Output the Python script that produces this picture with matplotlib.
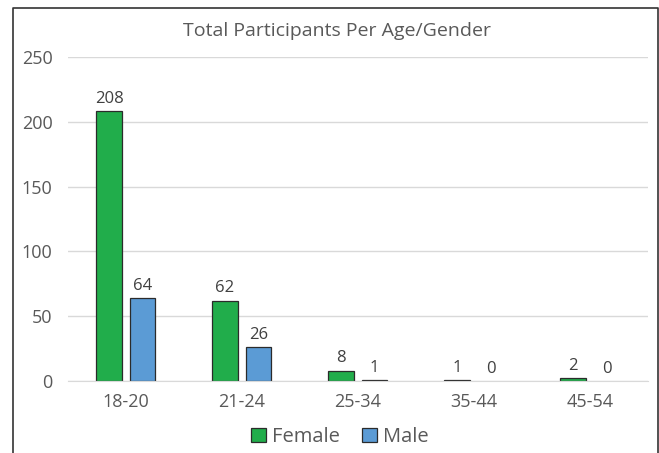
import numpy as np
import matplotlib
matplotlib.use('Agg')
import matplotlib.pyplot as plt
from matplotlib.lines import Line2D

# Datos
grupos = ['18-20', '21-24', '25-34', '35-44', '45-54']
mujeres = [208, 62, 8, 1, 2]
hombres = [64, 26, 1, 0, 0]

plt.rcParams['font.family'] = ['Open Sans', 'DejaVu Sans']

fig = plt.figure(figsize=(6.59, 4.53), dpi=100)
ax = fig.add_axes([0.103, 0.159, 0.880, 0.715])

x = np.arange(len(grupos))
ancho = 0.22
desp = 0.145

b1 = ax.bar(x - desp, mujeres, ancho, color='#21ad4b', edgecolor='#2b2b2b', linewidth=0.9, label='Female')
b2 = ax.bar(x + desp, hombres, ancho, color='#5b9bd5', edgecolor='#2b2b2b', linewidth=0.9, label='Male')

# Excel no dibuja borde cuando el valor es cero
for barras, vals in [(b1, mujeres), (b2, hombres)]:
  for r, v in zip(barras, vals):
    if v == 0:
      r.set_linewidth(0)

ax.bar_label(b1, padding=3, fontsize=12, color='#404040')
ax.bar_label(b2, padding=3, fontsize=12, color='#404040')

ax.set_xlim(-0.5, len(grupos) - 0.5)
ax.set_ylim(0, 250)
ax.set_yticks(np.arange(0, 251, 50))
ax.set_xticks(x)
ax.set_xticklabels(grupos)
ax.tick_params(axis='both', length=0, labelsize=13, labelcolor='#595959')
ax.tick_params(axis='y', pad=11)
ax.tick_params(axis='x', pad=9)

ax.grid(axis='y', color='#d9d9d9', linewidth=1)
ax.set_axisbelow(True)
for s in ['top', 'right', 'left']:
  ax.spines[s].set_visible(False)
ax.spines['bottom'].set_color('#d9d9d9')

fig.text(0.512, 0.932, 'Total Participants Per Age/Gender', ha='center', va='center', fontsize=14, color='#595959')

fig.legend(loc='center', bbox_to_anchor=(0.516, 0.035), ncol=2, frameon=False, fontsize=14.5,
           handlelength=0.75, handleheight=0.75, handletextpad=0.3, columnspacing=1.1, labelcolor='#595959')

# Borde exterior
x0, x1 = 13 / 659, 657.5 / 659
y1 = 1 - 8 / 453
fig.add_artist(Line2D([x0, x0, x1, x1], [0, y1, y1, 0], color='#333333', linewidth=1.2))

plt.savefig('out.png', dpi=100)
